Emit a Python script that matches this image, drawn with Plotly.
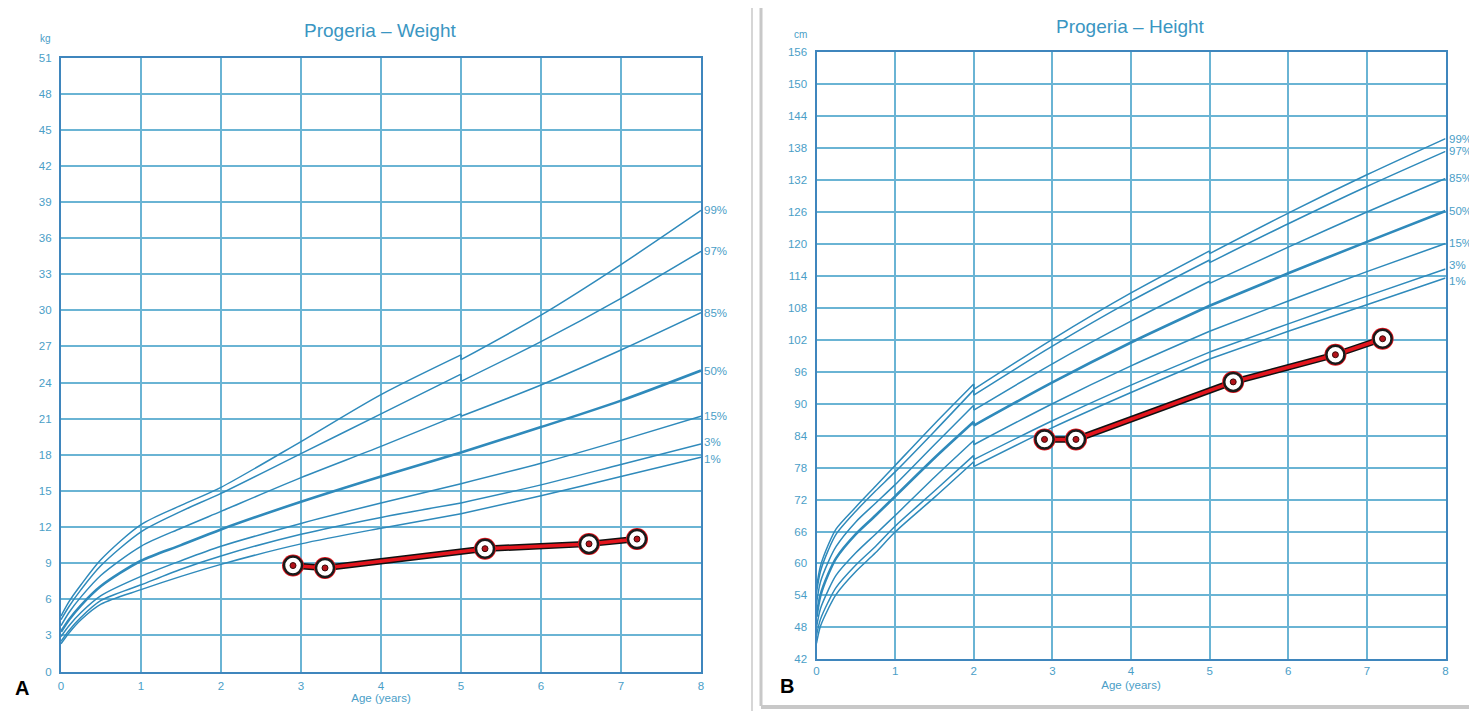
import plotly.graph_objects as go

# ---------------- DATA ----------------
percentiles = ["99%", "97%", "85%", "50%", "15%", "3%", "1%"]

# Weight (kg) reference curves, segment before and after age 5
w_age_a = [0, 0.1, 0.25, 0.5, 1, 1.5, 2, 3, 4, 5]
w_age_b = [5, 6, 7, 8]
w_p99_a = [4.6, 5.8, 7.2, 9.3, 12.2, 13.8, 15.3, 19.1, 23.0, 26.3]
w_p97_a = [4.3, 5.4, 6.8, 8.8, 11.6, 13.3, 14.8, 18.1, 21.4, 24.7]
w_p85_a = [3.8, 4.9, 6.2, 8.0, 10.4, 11.9, 13.3, 16.1, 18.7, 21.4]
w_p50_a = [3.3, 4.3, 5.5, 7.1, 9.2, 10.5, 11.8, 14.1, 16.2, 18.2]
w_p15_a = [2.9, 3.8, 4.9, 6.3, 7.9, 9.2, 10.4, 12.3, 14.0, 15.6]
w_p03_a = [2.5, 3.4, 4.5, 5.9, 7.2, 8.5, 9.6, 11.4, 12.8, 14.0]
w_p01_a = [2.3, 3.2, 4.3, 5.6, 6.8, 7.9, 8.9, 10.6, 11.9, 13.1]
w_p99_b = [25.9, 29.6, 33.8, 38.3]
w_p97_b = [24.1, 27.4, 31.0, 34.9]
w_p85_b = [21.2, 23.8, 26.7, 29.8]
w_p50_b = [18.2, 20.3, 22.5, 25.0]
w_p15_b = [15.6, 17.3, 19.2, 21.2]
w_p03_b = [14.0, 15.5, 17.2, 18.9]
w_p01_b = [13.1, 14.6, 16.2, 17.8]

# Height (cm) reference curves: before age 2, 2-5, 5-8
h_age_a = [0, 0.05, 0.15, 0.25, 0.5, 0.75, 1, 1.5, 2]
h_age_b = [2, 3, 4, 5]
h_age_c = [5, 6, 7, 8]
h_p99_a = [55.5, 59.5, 63.5, 66.5, 70.6, 74.5, 78.4, 86.2, 93.7]
h_p97_a = [54.5, 58.5, 62.5, 65.5, 69.8, 73.6, 77.2, 84.8, 92.6]
h_p85_a = [52.5, 56.5, 60.3, 63.2, 67.8, 71.3, 74.8, 82.3, 89.7]
h_p50_a = [50.0, 54.0, 58.0, 61.0, 65.5, 69.0, 72.6, 79.8, 86.6]
h_p15_a = [48.0, 51.5, 55.0, 57.8, 62.0, 65.5, 69.0, 76.2, 83.1]
h_p03_a = [46.5, 49.5, 52.8, 55.5, 59.7, 63.2, 67.0, 73.6, 80.3]
h_p01_a = [45.0, 48.2, 51.5, 54.2, 58.5, 62.0, 65.9, 72.4, 79.1]
h_p99_b = [92.7, 102.1, 110.8, 118.7]
h_p97_b = [91.6, 100.8, 109.3, 117.0]
h_p85_b = [88.8, 97.5, 105.5, 113.0]
h_p50_b = [85.9, 94.0, 101.5, 108.4]
h_p15_b = [82.3, 90.0, 97.1, 103.6]
h_p03_b = [79.5, 86.8, 93.5, 99.7]
h_p01_b = [78.2, 85.5, 92.1, 98.4]
h_p99_c = [118.2, 125.8, 133.0, 139.8]
h_p97_c = [116.5, 123.8, 130.8, 137.4]
h_p85_c = [112.6, 119.4, 126.0, 132.3]
h_p50_c = [108.4, 114.5, 120.4, 126.2]
h_p15_c = [103.6, 109.3, 114.8, 120.1]
h_p03_c = [99.7, 105.0, 110.2, 115.3]
h_p01_c = [98.4, 103.6, 108.6, 113.6]

# Patient measurements
patient_age = [2.9, 3.3, 5.3, 6.6, 7.2]
patient_weight = [8.8, 8.6, 10.2, 10.6, 11.0]
patient_height = [83.3, 83.3, 94.1, 99.2, 102.2]

w_ticks = list(range(0, 52, 3))
h_ticks = list(range(42, 157, 6))
x_ticks = list(range(0, 9))

# ---------------- STYLE ----------------
GRID = "#6ab4d4"
CURVE = "#2f8abb"
FRAME = "#3f86bd"
TEXT = "#4a9ec7"
FONT = "Liberation Sans, Arial, sans-serif"

W, H = 1477, 711
OFF = 8  # page body margin


def px(xp):
    return (xp - OFF) / W


def py(yp):
    return 1 - (yp - OFF) / H


fig = go.Figure()

weight_a = [w_p99_a, w_p97_a, w_p85_a, w_p50_a, w_p15_a, w_p03_a, w_p01_a]
weight_b = [w_p99_b, w_p97_b, w_p85_b, w_p50_b, w_p15_b, w_p03_b, w_p01_b]
height_a = [h_p99_a, h_p97_a, h_p85_a, h_p50_a, h_p15_a, h_p03_a, h_p01_a]
height_b = [h_p99_b, h_p97_b, h_p85_b, h_p50_b, h_p15_b, h_p03_b, h_p01_b]
height_c = [h_p99_c, h_p97_c, h_p85_c, h_p50_c, h_p15_c, h_p03_c, h_p01_c]
label_shift = {"3%": 4, "1%": -3}


def add_curve(x, y, xa, ya, width):
    fig.add_trace(go.Scatter(x=x, y=y, mode="lines", xaxis=xa, yaxis=ya,
                             line=dict(color=CURVE, width=width, shape="spline", smoothing=0.8),
                             hoverinfo="skip", showlegend=False))


def add_jump(xv, y0, y1, xa, ya, width):
    fig.add_trace(go.Scatter(x=[xv, xv], y=[y0, y1], mode="lines", xaxis=xa, yaxis=ya,
                             line=dict(color=CURVE, width=width),
                             hoverinfo="skip", showlegend=False))


for i, p in enumerate(percentiles):
    wd = 2.6 if p == "50%" else 1.5
    add_curve(w_age_a, weight_a[i], "x", "y", wd)
    add_curve(w_age_b, weight_b[i], "x", "y", wd)
    add_jump(5, weight_a[i][-1], weight_b[i][0], "x", "y", wd)
    add_curve(h_age_a, height_a[i], "x2", "y2", wd)
    add_curve(h_age_b, height_b[i], "x2", "y2", wd)
    add_curve(h_age_c, height_c[i], "x2", "y2", wd)
    add_jump(2, height_a[i][-1], height_b[i][0], "x2", "y2", wd)
    add_jump(5, height_b[i][-1], height_c[i][0], "x2", "y2", wd)
    fig.add_annotation(x=8, y=weight_b[i][-1], xref="x", yref="y", text=p, showarrow=False,
                       xanchor="left", yanchor="middle", xshift=1, yshift=label_shift.get(p, 0) * 0.5,
                       font=dict(size=11.5, color=TEXT, family=FONT))
    fig.add_annotation(x=8, y=height_c[i][-1], xref="x2", yref="y2", text=p, showarrow=False,
                       xanchor="left", yanchor="middle", xshift=1, yshift=label_shift.get(p, 0),
                       font=dict(size=11.5, color=TEXT, family=FONT))


def add_patient(y, xa, ya):
    fig.add_trace(go.Scatter(x=patient_age, y=y, mode="lines", xaxis=xa, yaxis=ya,
                             line=dict(color="#111111", width=6.5), hoverinfo="skip", showlegend=False))
    fig.add_trace(go.Scatter(x=patient_age, y=y, mode="lines", xaxis=xa, yaxis=ya,
                             line=dict(color="#e3151d", width=3.5), hoverinfo="skip", showlegend=False))
    fig.add_trace(go.Scatter(x=patient_age, y=y, mode="markers", xaxis=xa, yaxis=ya,
                             marker=dict(size=22, color="#e3151d", line=dict(width=0)),
                             hoverinfo="skip", showlegend=False))
    fig.add_trace(go.Scatter(x=patient_age, y=y, mode="markers", xaxis=xa, yaxis=ya,
                             marker=dict(size=18, color="white", line=dict(color="#1a1a1a", width=2.5)),
                             hoverinfo="skip", showlegend=False))
    fig.add_trace(go.Scatter(x=patient_age, y=y, mode="markers", xaxis=xa, yaxis=ya,
                             marker=dict(size=6, color="#b3121a", line=dict(color="#3a0a0a", width=1)),
                             hoverinfo="skip", showlegend=False))


add_patient(patient_weight, "x", "y")
add_patient(patient_height, "x2", "y2")

axis_common = dict(showgrid=True, gridcolor=GRID, gridwidth=1.5, showline=True, mirror=True,
                   linecolor=FRAME, linewidth=2.2, zeroline=False, ticks="", automargin=False,
                   tickfont=dict(size=11.5, color=TEXT, family=FONT), fixedrange=True)
title_font = dict(size=11.5, color=TEXT, family=FONT)

fig.update_layout(
    width=W, height=H, margin=dict(l=0, r=0, t=0, b=0, pad=0), autosize=False,
    paper_bgcolor="white", plot_bgcolor="white", showlegend=False,
    xaxis=dict(domain=[px(61), px(701)], range=[0, 8], tickvals=x_ticks, anchor="y",
               ticklabelstandoff=3,
               title=dict(text="Age (years)", font=title_font, standoff=3), **axis_common),
    yaxis=dict(domain=[py(671.5), py(57.5)], range=[0, 51], tickvals=w_ticks, anchor="x",
               ticklabelstandoff=5, **axis_common),
    xaxis2=dict(domain=[px(816.5), px(1445.5)], range=[0, 8], tickvals=x_ticks, anchor="y2",
                ticklabelstandoff=0,
                title=dict(text="Age (years)", font=title_font, standoff=5), **axis_common),
    yaxis2=dict(domain=[py(659.3), py(52.3)], range=[42, 156], tickvals=h_ticks, anchor="x2",
                ticklabelstandoff=5, **axis_common),
)


def text(xp, yp, s, size, color=TEXT):
    fig.add_annotation(x=px(xp), y=py(yp), xref="paper", yref="paper", text=s, showarrow=False,
                       xanchor="center", yanchor="middle", font=dict(size=size, color=color, family=FONT))


# titles, unit labels, panel letters
text(380, 30, "Progeria \u2013 Weight", 19, "#3a96c2")
text(1130, 27, "Progeria \u2013 Height", 19, "#3a96c2")
text(45, 38, "kg", 10)
text(800, 34, "cm", 10)
text(22, 688, "<b>A</b>", 20, "black")
text(787, 686, "<b>B</b>", 20, "black")

# panel frames (light grey borders of the two figure panels)
fig.add_shape(type="line", xref="paper", yref="paper", x0=px(752), x1=px(752), y0=0, y1=1,
              line=dict(color="#d6d6d6", width=2), layer="below")
fig.add_shape(type="line", xref="paper", yref="paper", x0=px(761), x1=px(761), y0=py(706), y1=1,
              line=dict(color="#c8c8c8", width=3), layer="below")
fig.add_shape(type="line", xref="paper", yref="paper", x0=px(761), x1=1, y0=py(707), y1=py(707),
              line=dict(color="#c8c8c8", width=4), layer="below")

fig.write_html("out.html")
